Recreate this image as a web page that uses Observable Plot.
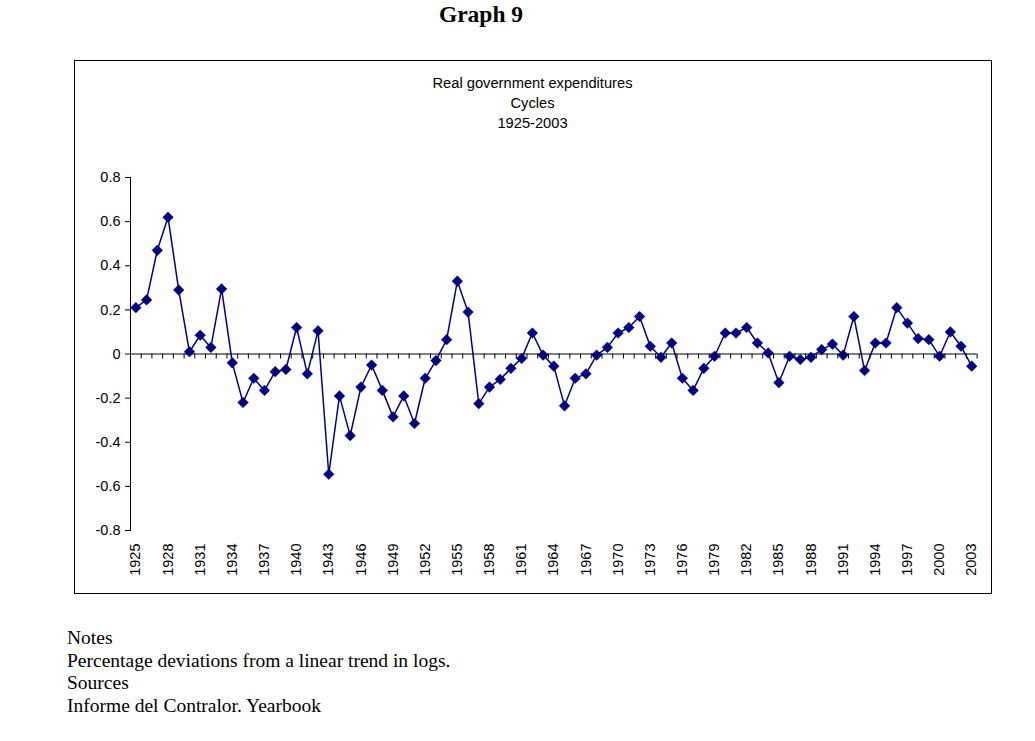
<!DOCTYPE html>
<html>
<head>
<meta charset="utf-8">
<script src="https://cdn.jsdelivr.net/npm/d3@7"></script>
<script src="https://cdn.jsdelivr.net/npm/@observablehq/plot@0.6"></script>
<style>
  html, body { margin: 0; padding: 0; background: #fff; }
  #page { position: relative; width: 1035px; height: 741px; overflow: hidden; }
  #graphTitle { position: absolute; left: 0; width: 962px; top: 1px; text-align: center;
    font-family: "Liberation Serif", "Times New Roman", serif; font-weight: bold; font-size: 23.5px; }
  #box { position: absolute; left: 74px; top: 60px; width: 918px; height: 534px;
    border: 1px solid #000; box-sizing: border-box; }
  #chart { position: absolute; left: 74px; top: 60px; }
  #chartTitle { position: absolute; left: 74px; width: 917px; top: 73px; text-align: center;
    font-family: "Liberation Sans", Arial, sans-serif; font-size: 14.7px; line-height: 20px; color: #000; }
  #notes { position: absolute; left: 67px; top: 627px;
    font-family: "Liberation Serif", "Times New Roman", serif; font-size: 19.5px; line-height: 22.7px; color: #000; }
</style>
</head>
<body>
<div id="page">
  <div id="graphTitle">Graph 9</div>
  <div id="box"></div>
  <div id="chart"></div>
  <div id="chartTitle">Real government expenditures<br>Cycles<br>1925-2003</div>
  <div id="notes">Notes<br>Percentage deviations from a linear trend in logs.<br>Sources<br>Informe del Contralor. Yearbook</div>
</div>
<script>
const years = [1925,1926,1927,1928,1929,1930,1931,1932,1933,1934,1935,1936,1937,1938,1939,
  1940,1941,1942,1943,1944,1945,1946,1947,1948,1949,1950,1951,1952,1953,1954,1955,1956,1957,
  1958,1959,1960,1961,1962,1963,1964,1965,1966,1967,1968,1969,1970,1971,1972,1973,1974,1975,
  1976,1977,1978,1979,1980,1981,1982,1983,1984,1985,1986,1987,1988,1989,1990,1991,1992,1993,
  1994,1995,1996,1997,1998,1999,2000,2001,2002,2003];

const cycles = [0.21,0.245,0.47,0.62,0.29,0.01,0.085,0.03,0.295,-0.04,-0.22,-0.11,-0.165,-0.08,-0.07,
  0.12,-0.09,0.105,-0.545,-0.19,-0.37,-0.15,-0.05,-0.165,-0.285,-0.19,-0.315,-0.11,-0.03,0.065,0.33,0.19,-0.225,
  -0.15,-0.115,-0.065,-0.02,0.095,-0.005,-0.055,-0.235,-0.11,-0.09,-0.005,0.03,0.095,0.12,0.17,0.035,-0.015,0.05,
  -0.11,-0.165,-0.065,-0.01,0.095,0.095,0.12,0.05,0.005,-0.13,-0.01,-0.025,-0.015,0.02,0.045,-0.005,0.17,-0.075,
  0.05,0.05,0.21,0.14,0.07,0.065,-0.01,0.10,0.035,-0.055];

const xTickLabels = [1925,1928,1931,1934,1937,1940,1943,1946,1949,1952,1955,1958,1961,1964,1967,
  1970,1973,1976,1979,1982,1985,1988,1991,1994,1997,2000,2003];

const yTicks = [-0.8,-0.6,-0.4,-0.2,0,0.2,0.4,0.6,0.8];

const data = years.map((yr, i) => ({year: yr, value: cycles[i]}));
const boundaries = years.map(yr => yr - 0.5).concat([years[years.length - 1] + 0.5]);

const navy = "#000080";

const chart = Plot.plot({
  width: 917,
  height: 533,
  marginLeft: 56,
  marginRight: 14.4,
  marginTop: 117,
  marginBottom: 63,
  style: {fontFamily: "'Liberation Sans', Arial, sans-serif", fontSize: "14px", color: "#000", background: "transparent", overflow: "visible"},
  x: {type: "linear", domain: [years[0] - 0.5, years[years.length - 1] + 0.5]},
  y: {type: "linear", domain: [-0.8, 0.8]},
  marks: [
    Plot.frame({anchor: "left", stroke: "#000", strokeWidth: 1}),
    Plot.axisY({ticks: yTicks, tickFormat: d => d === 0 ? "0" : d.toFixed(1), tickSize: 5, tickPadding: 5, label: null, stroke: "#000", strokeOpacity: 1, fontSize: 14.5, fill: "#000"}),
    Plot.axisX({ticks: xTickLabels, tickFormat: d => String(d), tickRotate: -90, tickSize: 0, tickPadding: 13, label: null, anchor: "bottom", fontSize: 14.5, fill: "#000"}),
    Plot.ruleY([0], {stroke: "#000", strokeWidth: 1}),
    Plot.ruleX(boundaries, {x: d => d, y1: 0, y2: -0.023, stroke: "#000", strokeWidth: 1}),
    Plot.line(data, {x: "year", y: "value", stroke: navy, strokeWidth: 1.5}),
    Plot.dot(data, {x: "year", y: "value", symbol: "diamond2", r: 4.8, fill: navy, stroke: navy, strokeWidth: 0.5})
  ]
});
document.getElementById("chart").appendChild(chart);
</script>
</body>
</html>
